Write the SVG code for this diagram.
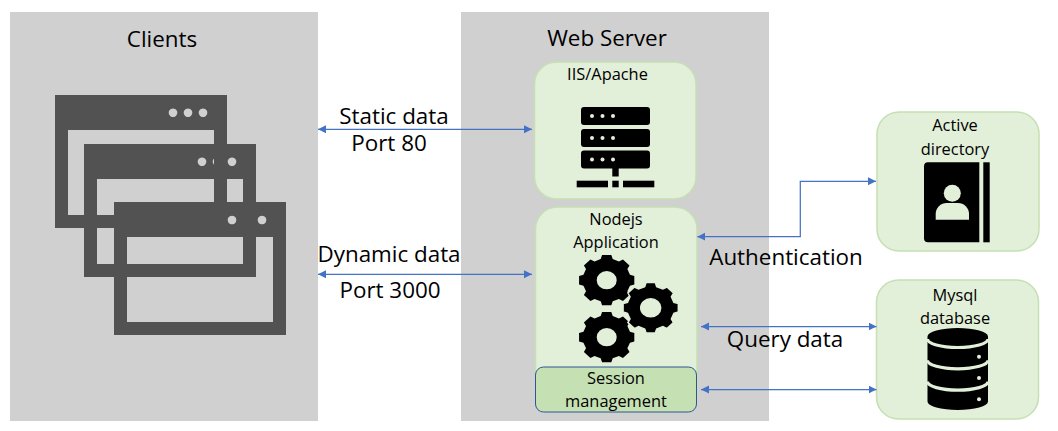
<svg xmlns="http://www.w3.org/2000/svg" width="1058" height="431" viewBox="0 0 1058 431">
<style>
text{font-family:"Open Sans","Noto Sans","Liberation Sans",sans-serif;fill:#000;text-anchor:middle}
.big{font-size:22.400px}
.small{font-size:16.400px}
.panel{fill:#d0d0d0}
.node{fill:#e2efd9;stroke:#c5e0b3;stroke-width:1.5}
.win{fill:#525252;fill-rule:evenodd}
.conn{fill:none;stroke:#4472c4;stroke-width:1.25;marker-start:url(#head);marker-end:url(#head)}
.gear{fill:#000;fill-rule:evenodd}
.sv{fill:#000}
.lt{fill:#e2efd9}
</style>
<defs>
<marker id="head" markerUnits="userSpaceOnUse" markerWidth="9" markerHeight="9" refX="8" refY="4.500" orient="auto-start-reverse"><path d="M0 0.500L8 4.500L0 8.500Z" fill="#4472c4"/></marker>
<path id="gearshape" d="M-6.010-23.240L-4.620-27.620 4.620-27.620 6.010-23.240 12.180-20.680 16.260-22.800 22.800-16.260 20.680-12.180 23.240-6.010 27.620-4.620 27.620 4.620 23.240 6.010 20.680 12.180 22.800 16.260 16.260 22.800 12.180 20.680 6.010 23.240 4.620 27.620-4.620 27.620-6.010 23.240-12.180 20.680-16.260 22.800-22.800 16.260-20.680 12.180-23.240 6.010-27.620 4.620-27.620-4.620-23.240-6.010-20.680-12.180-22.800-16.260-16.260-22.800-12.180-20.680ZM-10 0A10 10 0 0 0 10 0A10 10 0 0 0-10 0Z"/>
</defs>

<g id="clients">
<rect class="panel" x="10" y="12" width="308" height="409"/>
<text class="big" x="162" y="47">Clients</text>
<path class="win" d="M114 202H286V335H114ZM127 237V322H273V237ZM232 215.700a4.300 4.300 0 1 0 .01 0ZM262 215.700a4.300 4.300 0 1 0 .01 0Z"/>
<path class="win" d="M84 144H256V277H84ZM97 179V264H243V179ZM202 157.400a4.300 4.300 0 1 0 .01 0ZM217 157.400a4.300 4.300 0 1 0 .01 0ZM232 157.400a4.300 4.300 0 1 0 .01 0Z"/>
<path class="win" d="M55 95H227V228H55ZM68 130V215H214V130ZM173 108.400a4.300 4.300 0 1 0 .01 0ZM188 108.400a4.300 4.300 0 1 0 .01 0ZM203 108.400a4.300 4.300 0 1 0 .01 0Z"/>
</g>

<g id="web-server">
<rect class="panel" x="461" y="12" width="308" height="409"/>
<text class="big" x="607" y="46">Web Server</text>
</g>

<g id="iis-apache">
<rect class="node" x="534.500" y="62" width="161.500" height="137" rx="22"/>
<text class="small" x="607.500" y="80">IIS/Apache</text>
<rect class="sv" x="581" y="107" width="69" height="18" rx="3"/>
<rect class="sv" x="581" y="129" width="69" height="18" rx="3"/>
<rect class="sv" x="581" y="150.500" width="69" height="18" rx="3"/>
<g class="lt"><circle cx="592" cy="116" r="2"/><circle cx="602.500" cy="116" r="2"/><circle cx="613" cy="116" r="2"/><circle cx="592" cy="138" r="2"/><circle cx="602.500" cy="138" r="2"/><circle cx="613" cy="138" r="2"/><circle cx="592" cy="159.500" r="2"/><circle cx="602.500" cy="159.500" r="2"/><circle cx="613" cy="159.500" r="2"/></g>
<rect class="sv" x="612.300" y="168" width="6.400" height="8.500"/>
<rect class="sv" x="576.700" y="180.700" width="31.300" height="6.600"/>
<rect class="sv" x="612.300" y="180.700" width="6.400" height="6.600"/>
<rect class="sv" x="623" y="180.700" width="31.300" height="6.600"/>
</g>

<g id="nodejs-application">
<path class="node" d="M535.500 229a22 22 0 0 1 22-22H675a22 22 0 0 1 22 22V390a22 22 0 0 1-22 22H557.500a22 22 0 0 1-22-22Z"/>
<text class="small" x="616" y="225">Nodejs</text>
<text class="small" x="616" y="247.500">Application</text>
<use href="#gearshape" class="gear" transform="translate(606.700 280.200) scale(1 .91)"/>
<use href="#gearshape" class="gear" transform="translate(606.700 337.200) scale(1 .91)"/>
<use href="#gearshape" class="gear" transform="translate(650.700 307.800) scale(1 .91)" stroke="#e2efd9" stroke-width="1.500"/>
</g>

<g id="session-management">
<rect x="535.500" y="367" width="161" height="45" rx="8" fill="#c5e0b3" stroke="#2f5597" stroke-width="1"/>
<text class="small" x="616" y="384">Session</text>
<text class="small" x="616" y="406.500">management</text>
</g>

<g id="active-directory">
<rect class="node" x="877" y="112" width="162" height="139" rx="22"/>
<text class="small" x="955" y="131">Active</text>
<text class="small" x="955" y="155">directory</text>
<path class="sv" d="M928 162.300H979.300V242.300H928a4 4 0 0 1-4-4V166.300a4 4 0 0 1 4-4Z"/>
<rect class="sv" x="983.300" y="162.300" width="6.400" height="80"/>
<circle class="lt" cx="952.300" cy="193.300" r="8.500"/>
<path class="lt" d="M935.700 219.700V214a11 11 0 0 1 11-11H958a11 11 0 0 1 11 11V219.700Z"/>
</g>

<g id="mysql-database">
<rect class="node" x="876.500" y="280" width="162" height="139" rx="22"/>
<text class="small" x="955" y="301">Mysql</text>
<text class="small" x="955" y="323.500">database</text>
<path class="sv" d="M927.500 336.500A30.250 8.500 0 0 1 988 336.500V401.500A30.250 8.500 0 0 1 927.500 401.500Z"/>
<g fill="none" stroke="#e2efd9" stroke-width="3.200"><path d="M927.500 339A30.250 8.500 0 0 0 988 339"/><path d="M927.500 360.300A30.250 8.500 0 0 0 988 360.300"/><path d="M927.500 381.600A30.250 8.500 0 0 0 988 381.600"/></g>
<g class="lt"><circle cx="979" cy="356.700" r="2"/><circle cx="979" cy="378" r="2"/><circle cx="979" cy="399.300" r="2"/></g>
</g>

<g id="connectors">
<path class="conn" d="M318 129.300H532"/>
<path class="conn" d="M318 274.300H532"/>
<path class="conn" d="M697.300 236.700H800.300V181.300H876"/>
<path class="conn" d="M701 326.500H876.500"/>
<path class="conn" d="M701 389.500H876.500"/>
</g>

<g id="connector-labels">
<text class="big" x="394" y="124">Static data</text>
<text class="big" x="389" y="151">Port 80</text>
<text class="big" x="389" y="261.500">Dynamic data</text>
<text class="big" x="390" y="298">Port 3000</text>
<text class="big" x="786" y="265">Authentication</text>
<text class="big" x="785" y="347">Query data</text>
</g>
</svg>
